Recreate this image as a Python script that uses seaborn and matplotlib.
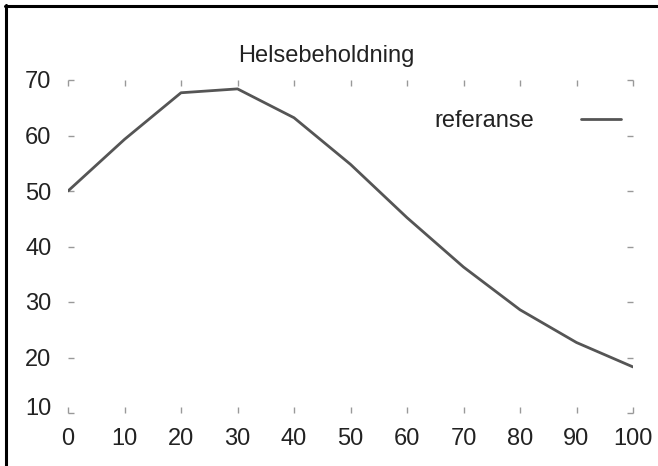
import matplotlib
matplotlib.use("Agg")
import matplotlib.pyplot as plt
from matplotlib.lines import Line2D
import matplotlib.transforms as mtransforms
import seaborn as sns
import pandas as pd

x_vals = [0, 10, 20, 30, 40, 50, 60, 70, 80, 90, 100]
referanse = [50.0, 59.3, 67.7, 68.4, 63.2, 54.8, 45.2, 36.3, 28.6, 22.7, 18.3]
x_ticks = [0, 10, 20, 30, 40, 50, 60, 70, 80, 90, 100]
y_ticks = [10, 20, 30, 40, 50, 60, 70]
title = "Helsebeholdning"
series_name = "referanse"

sns.set_theme(style="white")
plt.rcParams['font.family'] = ['Liberation Sans', 'DejaVu Sans']
plt.rcParams['text.color'] = '#222222'

FS = 17

df = pd.DataFrame({"x": x_vals, "y": referanse})

fig = plt.figure(figsize=(6.58, 4.66), dpi=100)
ax = fig.add_axes([68/658, 1-413/466, (633-68)/658, (413-80)/466])
sns.lineplot(data=df, x="x", y="y", ax=ax, color="#555555", linewidth=2.0, label=series_name)

ax.set_xlim(0, 100)
ax.set_ylim(10, 70)
ax.set_xticks(x_ticks)
ax.set_yticks(y_ticks)
ax.set_xlabel("")
ax.set_ylabel("")
for s in ax.spines.values():
    s.set_visible(False)
ax.tick_params(axis="both", which="major", direction="in", length=4, width=1,
               color="#999999", labelsize=FS, labelcolor="#222222",
               top=True, right=True, bottom=True, left=True,
               labeltop=False, labelright=False)
ax.tick_params(axis="y", pad=12)
ax.tick_params(axis="x", pad=11)

# lift the lowest y label slightly, like the reference
for lab in ax.get_yticklabels():
    if lab.get_text() == "10":
        lab.set_transform(lab.get_transform() + mtransforms.ScaledTranslation(0, 5/72, fig.dpi_scale_trans))

fig.text(326/658, 1-56/466, title, ha="center", va="center", fontsize=FS, color="#222222")

leg = ax.legend(loc="center right", bbox_to_anchor=(621/658, 1-121/466),
                bbox_transform=fig.transFigure, frameon=False, markerfirst=False,
                handlelength=1.7, handletextpad=2.0, borderpad=0, borderaxespad=0,
                fontsize=FS)
for t in leg.get_texts():
    t.set_color("#222222")

# page frame (left and top edges)
fig.add_artist(Line2D([6/658, 6/658], [0, 1-5/466], transform=fig.transFigure, color="black", linewidth=2.2))
fig.add_artist(Line2D([5/658, 1], [1-6/466, 1-6/466], transform=fig.transFigure, color="black", linewidth=2.2))

fig.savefig("out.png", dpi=100)
